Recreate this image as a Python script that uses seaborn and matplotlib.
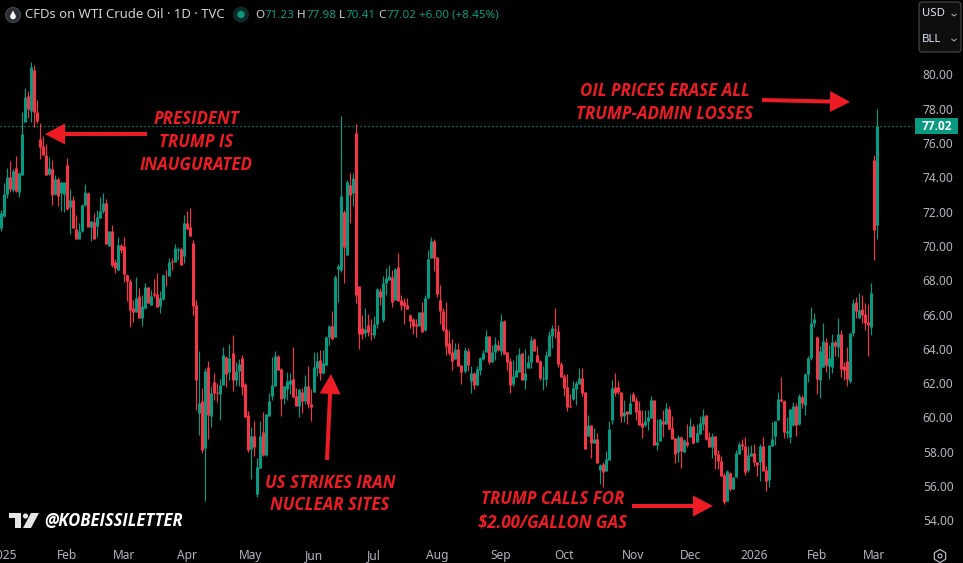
"""WTI crude daily candles with the four hand-drawn annotations."""
import numpy as np
import pandas as pd
import matplotlib
matplotlib.use("Agg")
import matplotlib.pyplot as plt
import seaborn as sns
from matplotlib.patches import Circle, FancyArrow, FancyBboxPatch, Polygon, Rectangle, RegularPolygon

# ── Data ──────────────────────────────────────────────────────────────────────
opens = [
    71.03, 71.77, 73.03, 74.02, 73.26, 74.55, 73.15, 74.16, 77.23, 78.74,
    77.87, 80.26, 77.81, 76.24, 75.83, 75.30, 74.20, 74.49, 73.03, 73.91,
    73.07, 73.03, 74.72, 72.27, 72.68, 70.99, 70.41, 70.89, 72.39, 73.09,
    71.11, 71.40, 71.16, 71.63, 72.04, 72.51, 70.00, 70.87, 69.07, 68.60,
    70.06, 70.00, 68.31, 67.96, 66.38, 66.15, 67.08, 65.80, 66.38, 67.61,
    66.56, 67.24, 67.20, 66.50, 66.91, 68.31, 68.25, 69.10, 69.07, 69.77,
    69.82, 69.42, 71.34, 71.11, 70.17, 66.56, 60.26, 60.96, 58.22, 62.94,
    60.09, 62.07, 61.49, 61.37, 61.89, 63.53, 62.65, 63.76, 62.18, 62.71,
    63.47, 61.95, 60.14, 58.16, 58.92, 55.54, 57.05, 59.15, 57.81, 60.09,
    61.25, 61.83, 63.58, 62.83, 61.13, 61.66, 61.95, 62.24, 61.25, 60.67,
    61.49, 60.96, 61.83, 60.79, 61.49, 62.88, 63.35, 62.59, 63.06, 64.69,
    65.33, 64.69, 68.66, 68.60, 71.98, 69.47, 73.55, 73.09, 76.59, 67.66,
    65.22, 64.92, 65.39, 64.92, 64.81, 65.45, 67.37, 65.68, 67.84, 68.01,
    68.19, 66.85, 68.77, 66.85, 66.73, 66.56, 65.97, 65.74, 65.45, 65.33,
    66.15, 65.10, 66.96, 69.30, 70.29, 69.36, 66.85, 66.21, 65.16, 64.34,
    63.82, 63.41, 64.00, 63.06, 62.71, 63.88, 62.13, 62.59, 61.89, 62.77,
    63.41, 63.82, 64.75, 63.23, 63.82, 64.23, 63.88, 65.62, 63.82, 63.29,
    61.95, 62.36, 62.65, 63.76, 62.18, 62.88, 63.23, 64.57, 63.64, 63.29,
    62.24, 62.24, 63.58, 64.75, 65.16, 65.04, 63.11, 62.42, 61.77, 60.65,
    61.07, 61.66, 61.95, 62.30, 61.48, 58.92, 59.56, 58.51, 58.74, 56.93,
    57.28, 56.88, 57.52, 59.85, 61.77, 61.77, 61.48, 60.08, 60.38, 60.20,
    61.37, 61.02, 60.43, 59.67, 59.56, 59.79, 59.97, 61.02, 58.39, 58.63,
    59.79, 59.62, 60.49, 59.38, 58.80, 57.98, 58.86, 57.98, 58.57, 58.86,
    59.50, 58.57, 59.03, 59.62, 60.14, 58.86, 58.28, 58.92, 57.87, 57.46,
    56.64, 55.13, 56.76, 55.83, 56.53, 57.87, 58.45, 58.33, 56.93, 57.75,
    57.93, 57.40, 57.40, 58.33, 56.93, 56.35, 58.33, 58.92, 59.85, 61.06,
    60.96, 59.11, 58.88, 59.56, 60.67, 59.62, 61.17, 60.75, 62.53, 63.47,
    65.49, 64.71, 62.18, 62.92, 64.42, 63.00, 62.96, 64.42, 64.11, 64.87,
    63.00, 63.29, 62.13, 64.92, 66.73, 65.80, 66.32, 66.03, 65.58, 65.27, 75.01, 71.23,
]
highs = [
    72.10, 73.65, 74.53, 74.95, 74.47, 75.25, 74.33, 77.81, 79.19, 79.05,
    80.73, 80.55, 78.51, 77.15, 76.41, 75.95, 75.19, 75.01, 74.14, 74.02,
    73.73, 73.73, 75.13, 73.32, 72.91, 71.81, 71.36, 72.45, 73.61, 73.15,
    71.46, 71.90, 72.10, 72.88, 73.09, 72.74, 70.87, 71.22, 69.24, 70.52,
    70.12, 70.52, 68.37, 68.05, 66.85, 68.19, 67.55, 67.14, 67.84, 67.61,
    67.43, 68.07, 68.42, 67.38, 68.37, 68.60, 69.30, 69.30, 70.12, 69.96,
    69.96, 71.81, 72.04, 72.21, 70.35, 66.85, 63.88, 61.72, 62.88, 63.29,
    61.83, 62.59, 62.00, 62.24, 64.11, 63.58, 64.28, 64.81, 63.23, 63.41,
    63.64, 62.01, 60.38, 59.44, 59.79, 57.64, 59.79, 60.32, 60.20, 61.43,
    63.53, 63.88, 63.62, 62.88, 61.83, 62.65, 62.59, 64.11, 61.72, 61.66,
    61.72, 62.48, 62.99, 61.66, 63.82, 63.82, 63.93, 63.93, 64.75, 65.39,
    66.21, 68.31, 68.95, 77.58, 72.10, 73.85, 74.25, 74.25, 77.11, 67.66,
    65.97, 66.38, 66.03, 65.74, 65.92, 67.55, 67.55, 68.25, 68.71, 68.89,
    68.60, 68.71, 69.59, 67.14, 66.96, 66.96, 66.03, 65.80, 65.74, 66.15,
    66.73, 67.14, 69.76, 70.52, 70.41, 69.36, 67.72, 66.38, 66.73, 65.10,
    64.57, 64.34, 64.34, 63.06, 64.11, 64.05, 63.00, 62.65, 63.00, 63.53,
    63.93, 65.10, 64.75, 64.23, 64.69, 64.52, 66.03, 65.68, 63.82, 63.47,
    63.35, 63.64, 64.05, 63.76, 64.00, 63.64, 64.75, 64.63, 64.17, 63.35,
    63.00, 63.87, 65.04, 65.39, 66.38, 65.39, 63.23, 62.53, 62.53, 61.37,
    62.12, 62.10, 62.88, 62.88, 61.48, 60.14, 59.56, 59.38, 59.09, 57.28,
    57.40, 58.04, 59.79, 62.18, 62.59, 62.12, 61.48, 61.02, 60.38, 61.37,
    61.48, 61.19, 60.96, 60.43, 60.43, 60.43, 61.25, 61.02, 59.91, 59.91,
    60.43, 60.84, 60.67, 60.08, 58.80, 58.98, 58.92, 58.74, 59.62, 59.97,
    59.62, 59.62, 60.08, 60.49, 60.14, 59.15, 59.09, 58.92, 58.10, 57.75,
    56.76, 56.93, 56.82, 56.53, 58.10, 58.57, 58.74, 58.86, 58.33, 58.39,
    58.45, 57.40, 58.45, 58.86, 57.17, 58.39, 59.73, 59.79, 61.48, 62.38,
    61.02, 60.05, 60.47, 60.92, 60.82, 61.37, 61.31, 62.61, 63.58, 66.42,
    66.07, 64.75, 64.17, 65.49, 64.61, 64.23, 64.87, 64.52, 65.78, 65.10,
    63.25, 64.13, 64.94, 66.89, 67.04, 67.24, 67.14, 66.65, 66.62, 67.84, 75.30, 77.98,
]
lows = [
    70.89, 71.71, 72.78, 73.17, 73.17, 73.17, 72.88, 74.14, 77.23, 77.44,
    77.25, 76.96, 77.19, 75.07, 75.30, 74.14, 74.14, 72.39, 72.97, 72.33,
    72.04, 72.00, 72.10, 70.70, 71.03, 70.41, 70.41, 70.83, 72.33, 71.11,
    70.27, 70.41, 70.54, 71.63, 71.90, 70.12, 70.00, 68.75, 68.40, 68.60,
    69.57, 67.92, 66.79, 65.25, 65.59, 66.15, 65.80, 65.35, 66.32, 66.68,
    66.56, 67.01, 66.44, 66.09, 66.85, 67.67, 68.25, 68.60, 69.07, 69.18,
    68.89, 68.99, 71.00, 70.58, 65.97, 60.44, 58.98, 57.93, 55.10, 58.74,
    59.44, 61.02, 60.90, 59.85, 61.89, 61.78, 62.18, 61.54, 61.83, 61.83,
    61.31, 60.03, 57.99, 56.41, 57.75, 55.36, 57.05, 57.75, 57.75, 60.09,
    61.02, 61.83, 62.77, 60.09, 60.79, 61.02, 61.37, 61.19, 60.67, 60.03,
    60.26, 60.79, 60.55, 59.79, 61.49, 62.42, 62.18, 62.53, 63.06, 64.23,
    64.57, 64.69, 66.73, 68.48, 67.84, 69.47, 71.34, 72.33, 66.67, 63.99,
    64.57, 64.71, 64.75, 64.52, 64.63, 65.22, 66.56, 65.57, 67.14, 68.01,
    66.44, 66.85, 66.79, 66.27, 65.45, 66.32, 65.22, 64.87, 64.69, 65.33,
    64.98, 65.04, 66.96, 69.30, 68.54, 67.02, 65.45, 65.04, 63.64, 63.64,
    62.77, 63.41, 63.00, 61.95, 62.59, 62.71, 61.43, 61.66, 61.89, 62.48,
    63.35, 63.82, 63.12, 63.23, 63.35, 63.89, 63.64, 63.70, 62.77, 61.43,
    61.83, 62.36, 62.65, 62.18, 61.66, 62.88, 62.88, 63.87, 63.23, 62.18,
    61.60, 61.83, 63.58, 64.05, 64.63, 62.94, 62.36, 61.25, 60.37, 60.59,
    61.02, 60.72, 61.95, 61.25, 58.16, 58.92, 57.63, 58.51, 57.34, 56.12,
    55.96, 56.88, 57.52, 59.62, 61.25, 61.37, 59.73, 59.73, 59.62, 60.20,
    60.96, 59.85, 59.56, 58.80, 59.44, 59.27, 59.97, 58.39, 58.10, 58.63,
    58.88, 59.62, 59.33, 58.74, 57.34, 57.40, 57.05, 57.98, 58.30, 58.86,
    58.45, 58.57, 59.03, 59.27, 58.68, 58.28, 57.63, 57.00, 57.00, 56.58,
    54.95, 55.13, 55.71, 55.83, 56.53, 57.87, 58.10, 56.64, 56.82, 57.75,
    57.17, 56.58, 56.29, 56.88, 55.71, 55.94, 58.33, 58.39, 59.85, 60.92,
    58.78, 58.78, 58.53, 59.50, 58.92, 59.56, 60.53, 60.14, 62.09, 63.35,
    65.30, 61.37, 61.11, 62.92, 62.67, 62.22, 62.57, 63.58, 63.55, 62.34,
    62.18, 61.83, 61.99, 64.75, 65.78, 65.80, 65.49, 65.10, 63.60, 64.81, 69.18, 70.41,
]
closes = [
    71.94, 73.03, 74.02, 73.32, 74.39, 73.21, 74.24, 76.53, 78.69, 77.99,
    80.44, 77.81, 77.29, 75.77, 75.30, 74.14, 74.55, 72.97, 73.89, 72.91,
    73.73, 73.73, 72.14, 72.68, 71.03, 70.41, 70.89, 72.39, 73.15, 71.11,
    71.46, 70.41, 71.69, 72.04, 72.51, 70.12, 70.87, 68.89, 68.72, 70.06,
    69.77, 68.37, 67.96, 66.27, 66.15, 66.97, 65.80, 66.50, 67.61, 66.68,
    67.08, 67.14, 66.44, 66.97, 68.31, 68.29, 69.07, 69.08, 69.88, 69.80,
    68.89, 71.34, 71.00, 70.58, 66.50, 62.18, 60.84, 58.10, 62.71, 60.14,
    61.43, 61.43, 61.41, 61.89, 63.64, 62.53, 63.47, 62.18, 62.71, 63.12,
    61.78, 60.03, 58.10, 58.92, 58.28, 57.11, 58.92, 57.81, 60.20, 60.96,
    61.89, 63.58, 62.77, 61.08, 61.83, 62.13, 62.18, 61.19, 60.67, 61.66,
    60.96, 61.83, 60.79, 60.61, 62.94, 63.29, 62.59, 63.18, 64.69, 65.33,
    64.57, 68.19, 68.83, 72.91, 69.94, 73.73, 72.97, 73.96, 67.14, 64.87,
    64.87, 65.16, 64.98, 64.89, 65.45, 67.49, 67.02, 67.84, 68.13, 68.25,
    66.73, 68.66, 66.79, 66.56, 66.50, 66.32, 65.62, 65.33, 65.33, 66.15,
    64.98, 66.96, 69.24, 70.29, 69.30, 67.20, 66.21, 65.10, 64.17, 63.76,
    63.29, 64.00, 63.00, 62.65, 63.93, 63.06, 62.59, 61.89, 62.83, 63.47,
    63.76, 64.75, 63.23, 63.82, 64.28, 63.91, 65.62, 63.70, 63.23, 61.89,
    62.42, 62.77, 63.70, 62.18, 62.59, 63.23, 64.52, 63.87, 63.23, 62.30,
    62.28, 63.64, 64.81, 65.22, 65.10, 63.12, 62.36, 61.72, 60.61, 60.59,
    61.72, 62.01, 62.30, 61.42, 58.16, 59.56, 58.51, 58.74, 57.34, 57.23,
    56.82, 57.58, 59.33, 61.72, 61.42, 61.48, 60.08, 60.32, 60.20, 60.84,
    60.96, 60.32, 59.56, 59.44, 59.79, 60.03, 61.02, 58.39, 58.57, 59.91,
    59.62, 60.55, 59.33, 58.74, 57.87, 58.86, 58.04, 58.68, 58.39, 59.50,
    58.51, 59.09, 59.67, 60.08, 58.74, 58.28, 58.92, 57.81, 57.46, 56.58,
    55.07, 56.88, 55.83, 56.53, 57.93, 58.45, 58.35, 56.82, 57.81, 57.93,
    57.40, 57.23, 58.33, 56.88, 56.29, 58.39, 58.74, 59.79, 61.07, 60.96,
    59.17, 59.21, 60.47, 60.67, 59.56, 61.25, 60.82, 62.53, 63.47, 65.49,
    65.74, 62.24, 63.87, 64.46, 63.06, 63.45, 64.42, 64.14, 64.87, 62.83,
    62.77, 62.24, 64.91, 66.67, 66.23, 66.27, 65.97, 65.53, 65.39, 67.26, 70.93, 77.02,
]

month_bars   = [1, 22, 41, 62, 83, 104, 124, 145, 166, 187, 210, 229, 250, 271, 290]
month_labels = ["2025", "Feb", "Mar", "Apr", "May", "Jun", "Jul", "Aug",
                "Sep", "Oct", "Nov", "Dec", "2026", "Feb", "Mar"]
price_ticks  = [54, 56, 58, 60, 62, 64, 66, 68, 70, 72, 74, 76, 78, 80]
last_price   = closes[-1]

# ── Style ─────────────────────────────────────────────────────────────────────
UP, DOWN = "#089981", "#F23645"
MARK     = "#ED1C24"
BLACK    = "#000000"
LABEL    = "#B2B5BE"
UI_FONT  = "Noto Sans"
NOTE_FONT = "Open Sans"

sns.set_theme(style="dark", rc={
    "figure.facecolor": BLACK,
    "axes.facecolor": BLACK,
    "axes.grid": False,
    "lines.solid_capstyle": "butt",
})
plt.rcParams["font.family"] = [UI_FONT, "DejaVu Sans"]

W, H = 963, 563
fig = plt.figure(figsize=(W / 100, H / 100), dpi=100, facecolor=BLACK)
AX_R, AX_B = 913, 543
ax = fig.add_axes([0, 1 - AX_B / H, AX_R / W, AX_B / H])

# ── Candles ───────────────────────────────────────────────────────────────────
df = pd.DataFrame({"open": opens, "high": highs, "low": lows, "close": closes})
df["bar"] = np.arange(len(df))
df["dir"] = np.where(df["close"] >= df["open"], "up", "down")
palette = {"up": UP, "down": DOWN}

wicks = df.melt(id_vars=["bar", "dir"], value_vars=["high", "low"], value_name="price")
bodies = df.melt(id_vars=["bar", "dir"], value_vars=["open", "close"], value_name="price")

sns.lineplot(data=wicks, x="bar", y="price", units="bar", hue="dir", palette=palette,
             estimator=None, linewidth=0.85, legend=False, ax=ax)
sns.lineplot(data=bodies, x="bar", y="price", units="bar", hue="dir", palette=palette,
             estimator=None, linewidth=2.2, legend=False, ax=ax)

ax.axhline(last_price, color=UP, linewidth=0.9, linestyle=(0, (1, 2.2)), zorder=1)

ax.set_xlim(-0.166, 302.85)
ax.set_ylim(52.68, 84.344)
ax.set_xlabel("")
ax.set_ylabel("")
sns.despine(ax=ax, left=True, bottom=True)
ax.yaxis.tick_right()
ax.set_yticks(price_ticks, [f"{p:.2f}" for p in price_ticks])
ax.set_xticks(month_bars, month_labels)
ax.tick_params(axis="y", length=0, pad=7, labelsize=8.6, labelcolor=LABEL)
ax.tick_params(axis="x", length=0, pad=4.5, labelsize=8.6, labelcolor=LABEL)
for lab in ax.get_xticklabels():
    if lab.get_text().startswith("20"):
        lab.set_fontweight("bold")

# ── Overlay in picture pixels ─────────────────────────────────────────────────
ov = fig.add_axes([0, 0, 1, 1], facecolor="none")
ov.set_xlim(0, W)
ov.set_ylim(H, 0)
ov.axis("off")


def note(x, y, lines, size=12.2, gap=22.7):
    for k, line in enumerate(lines):
        ov.text(x, y + 1.5 + k * gap, line, color=MARK, fontsize=size, family=NOTE_FONT,
                style="italic", weight="bold", ha="center", va="center")


def arrow(x0, y0, x1, y1):
    ov.add_patch(FancyArrow(x0, y0, x1 - x0, y1 - y0, width=4, head_width=21, head_length=20,
                            length_includes_head=True, color=MARK, linewidth=0))


note(196, 118, ["PRESIDENT", "TRUMP IS", "INAUGURATED"])
note(665, 90, ["OIL PRICES ERASE ALL", "TRUMP-ADMIN LOSSES"])
note(330, 481, ["US STRIKES IRAN", "NUCLEAR SITES"])
note(553, 498, ["TRUMP CALLS FOR", "$2.00/GALLON GAS"])
arrow(147, 134, 45, 134)
arrow(762, 100, 850, 102)
arrow(327, 460, 331, 374)
arrow(632, 506, 713, 506)

# header
ov.add_patch(Circle((13, 15), 7.5, facecolor="#2A2E39", edgecolor="#555555", linewidth=0.6))
ov.add_patch(Circle((13, 16.5), 2.8, facecolor="white", linewidth=0))
ov.add_patch(Polygon([(13, 10.5), (10.5, 15.5), (15.5, 15.5)], facecolor="white", linewidth=0))
ov.text(25, 14, "CFDs on WTI Crude Oil · 1D · TVC", color="#D1D4DC", fontsize=9.45, va="center")
ov.add_patch(Circle((241, 14.5), 8, facecolor="#0B2A26", linewidth=0))
ov.add_patch(Circle((241, 14.5), 3.6, facecolor=UP, linewidth=0))

ohlc_x = [(255, "O", 264, "71.23"), (297, "H", 306, "77.98"),
          (339, "L", 345, "70.41"), (378, "C", 386, "77.02")]
for kx, key, vx, val in ohlc_x:
    ov.text(kx, 15, key, color="#D1D4DC", fontsize=8.4, va="center")
    ov.text(vx, 15, val, color=UP, fontsize=8.4, va="center")
ov.text(419, 15, "+6.00 (+8.45%)", color=UP, fontsize=8.4, va="center")

# currency / unit switcher
ov.add_patch(FancyBboxPatch((921, 4), 38, 46, boxstyle="round,pad=2,rounding_size=3",
                            facecolor="#0E0E0E", edgecolor="#4A4A4A", linewidth=0.8))
for y, label in [(14, "USD"), (39, "BLL")]:
    ov.text(922, y, label, color="#DCE6F5", fontsize=8.2, va="center")
    ov.plot([951.5, 954, 956.5], [y, y + 2, y], color="#B2B5BE", linewidth=0.7)

# last price tag
ov.add_patch(Rectangle((915, 118), 43, 16, facecolor=UP, linewidth=0))
ov.text(936.5, 126, f"{last_price:.2f}", color="white", fontsize=8.6, weight="bold",
        family="Open Sans", ha="center", va="center")

# watermark
logo = "#E4E4E4"
ov.add_patch(Polygon([(9, 513), (21, 513), (21, 528), (15, 528), (15, 518), (9, 518)],
                     facecolor=logo, linewidth=0))
ov.add_patch(Circle((25.5, 516), 2.6, facecolor=logo, linewidth=0))
ov.add_patch(Polygon([(31, 513), (39, 513), (31, 528), (23, 528)], facecolor=logo, linewidth=0))
ov.text(44, 521, "@KOBEISSILETTER", color="white", fontsize=12, family=NOTE_FONT,
        style="italic", weight="bold", va="center")

# settings gear
ov.add_patch(RegularPolygon((940, 556), 6, radius=6.5, facecolor="none",
                            edgecolor=LABEL, linewidth=0.9))
ov.add_patch(Circle((940, 556), 2, facecolor="none", edgecolor=LABEL, linewidth=0.9))

fig.savefig("out.png", dpi=100, facecolor=BLACK)
plt.close(fig)
